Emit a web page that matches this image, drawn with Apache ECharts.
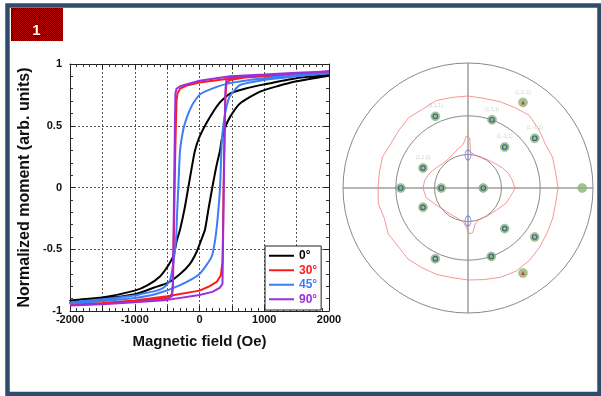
<!DOCTYPE html>
<html>
<head>
<meta charset="utf-8">
<script src="https://cdn.jsdelivr.net/npm/echarts@6/dist/echarts.min.js"></script>
<style>
  html, body { margin: 0; padding: 0; background: #fff; }
  #chart { width: 601px; height: 396px; }
</style>
</head>
<body>
<div id="chart"></div>
<script>
// hysteresis loops, [field (Oe), normalized moment]
const names = ['0°', '30°', '45°', '90°'];
const colors = ['#000000', '#ff1a1a', '#3d7df5', '#9b2fdc'];
const smoothing = [0.2, 0, 0.2, 0];

const black_desc = [[2000,0.91],[1500,0.885],[1000,0.835],[700,0.80],[470,0.76],[300,0.68],[150,0.56],[0,0.41],[-70,0.30],[-120,0.16],[-173,0.0],[-230,-0.17],[-300,-0.34],[-350,-0.43],[-400,-0.55],[-480,-0.63],[-610,-0.72],[-800,-0.79],[-1000,-0.835],[-1500,-0.89],[-2000,-0.915]];
const black_asc = [[-2000,-0.92],[-1500,-0.90],[-1000,-0.865],[-700,-0.81],[-500,-0.775],[-300,-0.70],[-150,-0.62],[-43,-0.52],[30,-0.42],[85,-0.34],[140,-0.17],[198,0.0],[260,0.17],[317,0.30],[342,0.385],[400,0.49],[470,0.57],[625,0.68],[934,0.776],[1200,0.82],[1500,0.86],[2000,0.905]];

const red_desc = [[2000,0.93],[1500,0.92],[1000,0.905],[500,0.885],[0,0.85],[-200,0.825],[-300,0.80],[-340,0.76],[-355,0.70],[-365,0.50],[-378,0.20],[-390,-0.20],[-400,-0.50],[-410,-0.78],[-425,-0.86],[-480,-0.895],[-1000,-0.92],[-1500,-0.935],[-2000,-0.945]];
const red_asc = [[-2000,-0.945],[-1500,-0.935],[-1000,-0.915],[-500,-0.88],[0,-0.835],[150,-0.80],[265,-0.765],[330,-0.71],[355,-0.60],[362,-0.40],[372,0.0],[385,0.40],[398,0.72],[415,0.84],[470,0.87],[700,0.89],[1000,0.90],[1500,0.915],[2000,0.93]];

const blue_desc = [[2000,0.925],[1500,0.91],[1000,0.885],[700,0.865],[470,0.845],[265,0.815],[100,0.78],[0,0.75],[-100,0.68],[-147,0.63],[-200,0.56],[-250,0.47],[-300,0.30],[-327,0.0],[-345,-0.2],[-363,-0.425],[-404,-0.61],[-455,-0.75],[-550,-0.81],[-660,-0.835],[-919,-0.865],[-1000,-0.875],[-1500,-0.905],[-2000,-0.93]];
const blue_asc = [[-2000,-0.94],[-1500,-0.92],[-1000,-0.895],[-660,-0.86],[-300,-0.79],[0,-0.70],[188,-0.56],[240,-0.43],[280,-0.25],[317,0.0],[345,0.38],[380,0.55],[420,0.66],[470,0.74],[625,0.83],[934,0.865],[1500,0.90],[2000,0.925]];

const purple_desc = [[2000,0.94],[1500,0.93],[1000,0.915],[470,0.90],[0,0.865],[-300,0.82],[-355,0.80],[-372,0.76],[-380,0.50],[-392,0.0],[-404,-0.50],[-412,-0.80],[-425,-0.88],[-500,-0.905],[-1000,-0.93],[-1500,-0.945],[-2000,-0.955]];
const purple_asc = [[-2000,-0.955],[-1500,-0.945],[-1000,-0.93],[-500,-0.91],[0,-0.87],[200,-0.845],[317,-0.81],[355,-0.78],[362,-0.50],[375,0.0],[390,0.50],[402,0.80],[415,0.87],[470,0.89],[1000,0.91],[2000,0.94]];

const loops = [
  black_desc.concat(black_asc),
  red_desc.concat(red_asc),
  blue_desc.concat(blue_asc),
  purple_desc.concat(purple_asc)
];

// pole figure (stereographic), radius in % of outer circle, angle in degrees (ccw from +x)
const tiltCircles = [60, 30];
const dotR = [81.4,57.9,63.0,66.6,44.0,39.4,53.8,21.4,12.2,91.4,39.2,43.8,66.2,57.8,62.3,81.0];
const dotA = [57.3,70.6,114.5,36.7,48.2,156,180,180,0,0,203.2,312.1,323.7,288.8,245.2,302.9];
const dotLabels = ['(1,1,-1)','(1,1,1)','(1,1,1)','(1,-1,1)','(1,-1,1)','(1,1,0)'];
const blueMarkIdx = [1,2,3,4,5,6,7,8,10,11,12,13,14];
const redMarkIdx = [0,15];

const outerA = [0,10,20,30,40,50,60,70,80,90,100,110,120,130,140,150,160,170,180,190,200,210,220,230,240,250,260,270,280,290,300,310,320,330,340,350,360];
const outerR = [72,71.2,72,71.2,73.6,76,74.4,73.6,72.8,73.6,73.6,74.4,72.8,73.6,72,71.2,72.8,72,72,72.8,71.2,73.6,72.8,74.4,73.6,73.6,72.8,73.6,74.4,76,76.8,76,74.4,72.8,72,71.2,72];
const innerA = [0,10,20,30,40,50,60,70,80,86,88,92,96,105,114,125,135,145,158,170,180,193,208,227,250,262,268,272,276,282,292,303,322,338,354,360];
const innerR = [37.6,36,34.4,32,29.6,28,27.2,26.4,27.2,28.8,40,41.6,35.2,32,29.6,28,28,29.6,32.8,35.2,36,34.4,28.8,25.6,25.6,27.2,32,36.8,36,28.8,26.4,27.2,28.8,32.8,36,37.6];
const ellipseR = [26.4, 26.4];
const ellipseA = [90, 270];

const FONT = '"Liberation Sans", Arial, sans-serif';
const chart = echarts.init(document.getElementById('chart'), null, { renderer: 'canvas' });

// checkered badge fill
const pc = document.createElement('canvas');
pc.width = 2; pc.height = 2;
const pctx = pc.getContext('2d');
pctx.fillStyle = '#b80000'; pctx.fillRect(0, 0, 2, 2);
pctx.fillStyle = '#1e0000'; pctx.fillRect(1, 0, 1, 1); pctx.fillRect(0, 1, 1, 1);

const polarCenter = [468, 188];
const R = 125;

function sideAxis(pos, isX) {
  return {
    type: 'value',
    position: pos,
    min: isX ? -2000 : -1,
    max: isX ? 2000 : 1,
    interval: isX ? 500 : 0.5,
    axisLine: { show: true, onZero: false, lineStyle: { color: '#222', width: 1 } },
    axisTick: { show: true, inside: true, length: 5, lineStyle: { color: '#222' } },
    minorTick: { show: true, splitNumber: 5, length: 3, lineStyle: { color: '#333' } },
    axisLabel: { show: false },
    splitLine: { show: false }
  };
}

const xMain = sideAxis('bottom', true);
xMain.splitLine = { show: true, lineStyle: { type: [2, 2], color: '#555', width: 1 } };
xMain.axisLabel = {
  show: true, margin: 3, fontSize: 11, fontWeight: 'bold', color: '#111', fontFamily: FONT,
  formatter: v => (v % 1000 === 0 ? String(v) : '')
};
xMain.name = 'Magnetic field (Oe)';
xMain.nameLocation = 'middle';
xMain.nameGap = 23;
xMain.nameTextStyle = { fontSize: 15, fontWeight: 'bold', color: '#111', fontFamily: FONT };

const yMain = sideAxis('left', false);
yMain.splitLine = { show: true, lineStyle: { type: [2, 2], color: '#555', width: 1 } };
yMain.axisLabel = { show: true, margin: 8, fontSize: 11, fontWeight: 'bold', color: '#111', fontFamily: FONT };
yMain.name = 'Normalized moment (arb. units)';
yMain.nameLocation = 'middle';
yMain.nameGap = 37;
yMain.nameTextStyle = { fontSize: 16, fontWeight: 'bold', color: '#111', fontFamily: FONT };

const series = loops.map((d, i) => ({
  name: names[i],
  type: 'line',
  xAxisIndex: 0,
  yAxisIndex: 0,
  data: d,
  showSymbol: false,
  symbol: 'none',
  smooth: smoothing[i],
  lineStyle: { color: colors[i], width: 2 },
  itemStyle: { color: colors[i] },
  silent: true,
  z: 3 + i
}));

const pol = (r, a) => r.map((v, i) => [v, a[i]]);

series.push(
  {
    type: 'line', coordinateSystem: 'polar', polarIndex: 0,
    data: pol(outerR, outerA), symbol: 'none',
    lineStyle: { color: '#f27c7c', width: 0.8 }, silent: true
  },
  {
    type: 'line', coordinateSystem: 'polar', polarIndex: 0,
    data: pol(innerR, innerA), symbol: 'none',
    lineStyle: { color: '#f27c7c', width: 0.8 }, silent: true
  },
  {
    type: 'scatter', coordinateSystem: 'polar', polarIndex: 0,
    data: pol(dotR, dotA), symbol: 'circle', symbolSize: 9,
    itemStyle: { color: '#8cb574', borderColor: '#7aa463', borderWidth: 0.5 },
    label: {
      show: true, position: 'top', distance: 3, fontSize: 5, color: '#c4c4c4', fontFamily: FONT,
      formatter: p => dotLabels[p.dataIndex] || ''
    },
    silent: true
  },
  {
    type: 'scatter', coordinateSystem: 'polar', polarIndex: 0,
    data: blueMarkIdx.map(i => [dotR[i], dotA[i]]), symbol: 'circle', symbolSize: 4.5,
    itemStyle: { color: 'rgba(0,0,0,0)', borderColor: '#1f4f8f', borderWidth: 1.2 },
    silent: true
  },
  {
    type: 'scatter', coordinateSystem: 'polar', polarIndex: 0,
    data: redMarkIdx.map(i => [dotR[i], dotA[i]]), symbol: 'triangle', symbolSize: 4,
    itemStyle: { color: '#d02828' },
    silent: true
  },
  {
    type: 'scatter', coordinateSystem: 'polar', polarIndex: 0,
    data: pol(ellipseR, ellipseA), symbol: 'circle', symbolSize: [6, 10],
    itemStyle: { color: 'rgba(0,0,0,0)', borderColor: '#7474ff', borderWidth: 1 },
    silent: true
  }
);

const ringRadius = [R].concat(tiltCircles.map(t => R * Math.tan(t * Math.PI / 360)));

const option = {
  backgroundColor: '#fff',
  animation: false,
  textStyle: { fontFamily: FONT },
  grid: { left: 70, top: 64, width: 259, height: 247 },
  xAxis: [xMain, sideAxis('top', true)],
  yAxis: [yMain, sideAxis('right', false)],
  legend: {
    orient: 'vertical',
    left: 265, top: 246,
    padding: [3, 4, 4, 4],
    itemGap: 1,
    itemWidth: 25, itemHeight: 2,
    icon: 'rect',
    borderColor: '#222', borderWidth: 1,
    backgroundColor: '#fff',
    textStyle: { fontSize: 12, fontWeight: 'bold', lineHeight: 13.5, fontFamily: FONT },
    data: names.map((n, i) => ({ name: n, itemStyle: { color: colors[i] }, textStyle: { color: colors[i] } }))
  },
  polar: ringRadius.map(r => ({ center: polarCenter, radius: r })),
  angleAxis: ringRadius.map((r, i) => ({
    polarIndex: i, type: 'value', min: 0, max: 360, interval: 90,
    startAngle: 0, clockwise: false,
    axisLine: { show: true, lineStyle: { color: '#8a8a8a', width: 1 } },
    axisTick: { show: false }, axisLabel: { show: false },
    splitLine: { show: i === 0, lineStyle: { color: '#6e6e6e', width: 1 } },
    silent: true
  })),
  radiusAxis: ringRadius.map((r, i) => ({
    polarIndex: i, type: 'value', min: 0, max: 100, show: false,
    splitLine: { show: false }
  })),
  graphic: [
    {
      type: 'rect', silent: true, z: 100,
      shape: { x: 7.5, y: 5.5, width: 592, height: 388.5 },
      style: { fill: 'none', stroke: '#2f4d6b', lineWidth: 4.5 }
    },
    {
      type: 'rect', silent: true, z: 100,
      shape: { x: 11, y: 8, width: 52, height: 33 },
      style: { fill: { image: pc, repeat: 'repeat' } }
    },
    {
      type: 'text', silent: true, z: 101,
      x: 36.5, y: 31,
      style: { text: '1', fill: '#fff', font: 'bold 15px ' + FONT, align: 'center', verticalAlign: 'middle' }
    }
  ],
  series: series
};

chart.setOption(option);
</script>
</body>
</html>
